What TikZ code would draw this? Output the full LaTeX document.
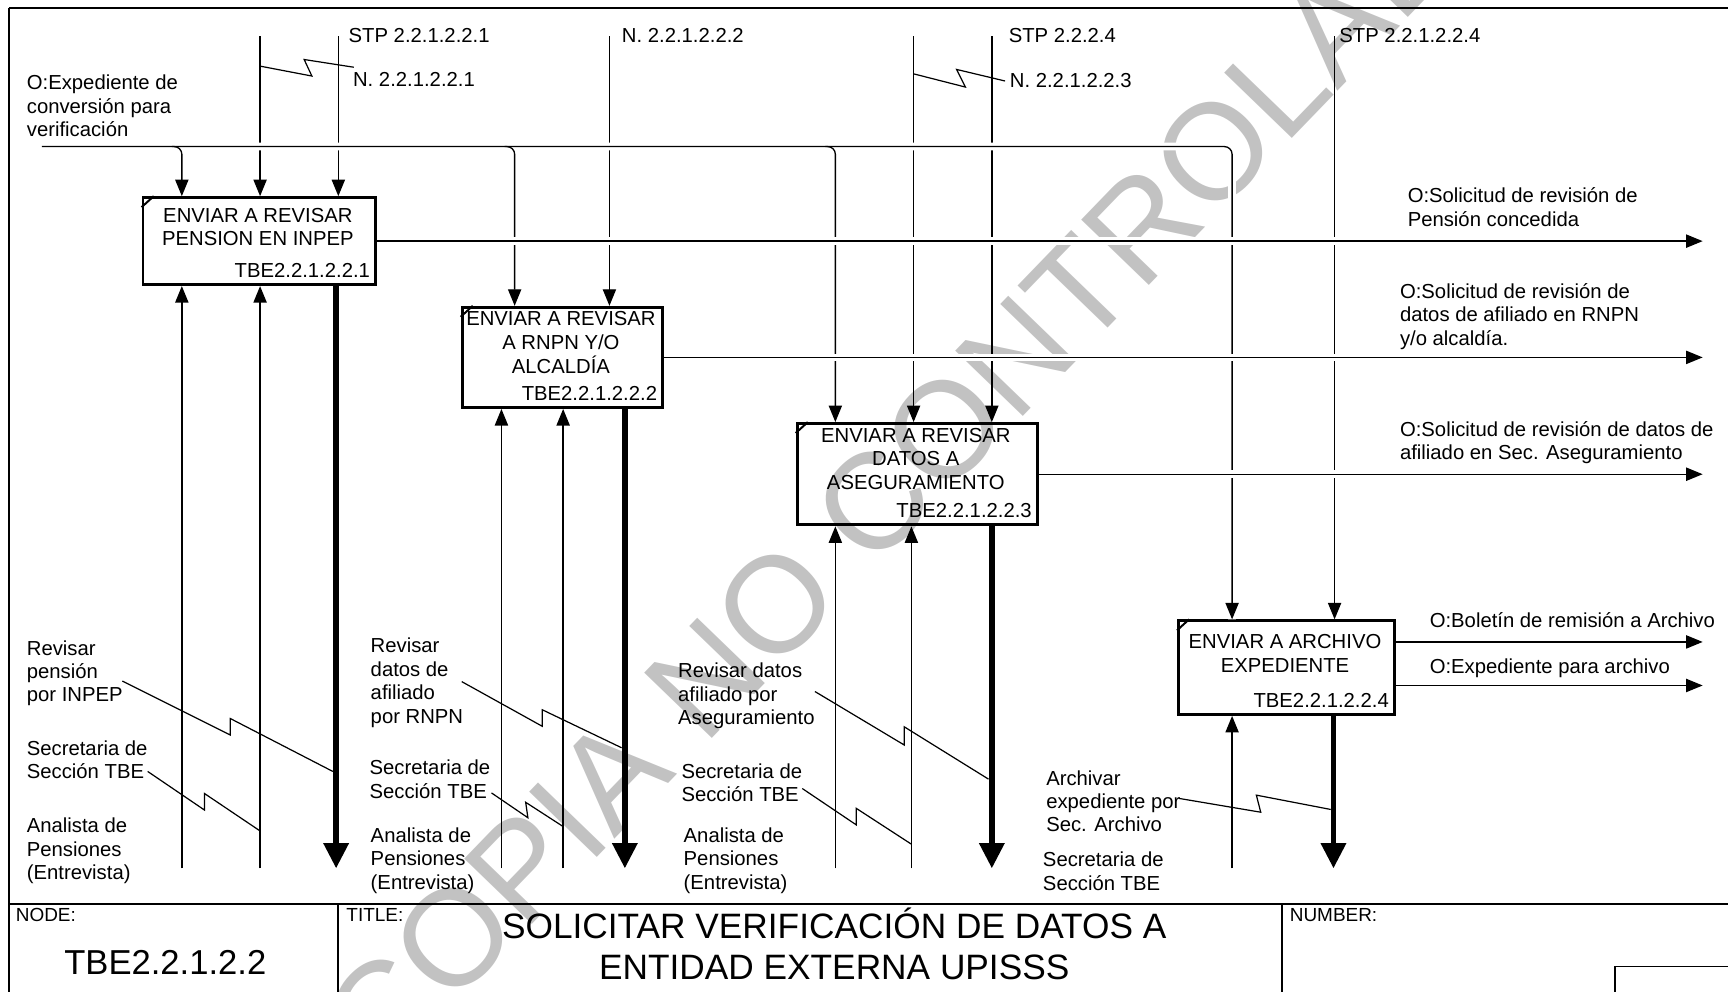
\documentclass[tikz,border=0pt]{standalone}
\usepackage{fontspec}
\setmainfont{Liberation Sans}
\usetikzlibrary{arrows.meta}

\begin{document}
\begin{tikzpicture}[x=0.5pt,y=-0.5pt,>={Triangle[length=7.5pt,width=6pt]},
    txt/.style={font=\fontsize{9.2}{10.6}\selectfont,inner sep=0pt,align=left,anchor=west},
    boxtxt/.style={font=\fontsize{9.2}{10.8}\selectfont,inner sep=0pt,align=center},
    act/.style={draw,line width=1.3pt,inner sep=0pt,anchor=north west},
    flow/.style={line width=0.6pt},
    bridge/.style={preaction={draw=white,line width=3.5pt,shorten <=0.8pt,-}},
    call/.style={line width=2.6pt,-{Triangle[length=11.5pt,width=11pt]}},
    squig/.style={line width=0.55pt},
    frame/.style={line width=0.9pt},
    wmark/.style={font=\fontsize{62}{62}\selectfont,text=black!24,rotate=46,inner sep=0pt}]
  \useasboundingbox (0,0) rectangle (1568,900);

  % watermark
  \node[wmark] (wm) at (838,410) {COPIA NO CONTROLADA};

  % activities
  \node[act,minimum width=105.5pt,minimum height=39.5pt] (a1) at (128.5,178) {};
  \node[act,minimum width=91pt,minimum height=45.5pt] (a2) at (418,277.5) {};
  \node[act,minimum width=109pt,minimum height=46pt] (a3) at (722,383) {};
  \node[act,minimum width=98pt,minimum height=42.5pt] (a4) at (1068,562) {};
  \foreach \b in {a1,a2,a3,a4}
    \draw[line width=0.9pt] ([yshift=-5pt]\b.north west) -- ([xshift=5.5pt]\b.north west);

  \node[boxtxt] (a1t) at (234,206) {ENVIAR A REVISAR\\PENSION EN INPEP};
  \node[boxtxt] (a2t) at (509,311) {ENVIAR A REVISAR\\A RNPN Y/O\\ALCALDÍA};
  \node[boxtxt] (a3t) at (831,416.5) {ENVIAR A REVISAR\\DATOS A\\ASEGURAMIENTO};
  \node[boxtxt] (a4t) at (1166,593) {ENVIAR A ARCHIVO\\EXPEDIENTE};
  \node[boxtxt,anchor=base east] (a1n) at ([xshift=-3pt,yshift=3.8pt]a1.south east) {TBE2.2.1.2.2.1};
  \node[boxtxt,anchor=base east] (a2n) at ([xshift=-3pt,yshift=3.8pt]a2.south east) {TBE2.2.1.2.2.2};
  \node[boxtxt,anchor=base east] (a3n) at ([xshift=-3pt,yshift=3.8pt]a3.south east) {TBE2.2.1.2.2.3};
  \node[boxtxt,anchor=base east] (a4n) at ([xshift=-3pt,yshift=3.8pt]a4.south east) {TBE2.2.1.2.2.4};

  % controls from the top
  \coordinate (t1) at (236,33);
  \coordinate (t2) at (307,33);
  \coordinate (t3) at (553,33);
  \coordinate (t4) at (829,33);
  \coordinate (t5) at (900,33);
  \coordinate (t6) at (1211,33);
  \draw[flow,->] (t1) -- (t1 |- a1.north);
  \draw[flow,->] (t2) -- (t2 |- a1.north);
  \draw[flow,->] (t3) -- (t3 |- a2.north);
  \draw[flow,->] (t4) -- (t4 |- a3.north);
  \draw[flow,->] (t5) -- (t5 |- a3.north);
  \draw[flow,->] (t6) -- (t6 |- a4.north);

  % mechanism ends at the bottom
  \coordinate (u1) at (165,788);
  \coordinate (u2) at (236,788);
  \coordinate (u3) at (305,788);
  \coordinate (u4) at (455,788);
  \coordinate (u5) at (511,788);
  \coordinate (u6) at (567,788);
  \coordinate (u7) at (758,788);
  \coordinate (u8) at (827,788);
  \coordinate (u9) at (900,788);
  \coordinate (u10) at (1118,788);
  \coordinate (u11) at (1210,788);
  \coordinate (v2) at (467,788);

  % input line and its branches
  \coordinate (in) at (38,133);
  \coordinate (k1) at (156,133);
  \coordinate (k2) at (458,133);
  \coordinate (k3) at (749,133);
  \draw[flow,bridge,->,rounded corners=3.5pt] (in) -| (u10 |- a4.north);
  \draw[flow,->,rounded corners=3.5pt] (k1) -| (u1 |- a1.north);
  \draw[flow,->,rounded corners=3.5pt] (k2) -| (v2 |- a2.north);
  \draw[flow,->,rounded corners=3.5pt] (k3) -| (u7 |- a3.north);

  % mechanisms and calls
  \draw[flow,->] (u1) -- (u1 |- a1.south);
  \draw[flow,->] (u2) -- (u2 |- a1.south);
  \draw[call] (a1.south -| u3) -- (u3);
  \draw[flow,->] (u4) -- (u4 |- a2.south);
  \draw[flow,->] (u5) -- (u5 |- a2.south);
  \draw[call] (a2.south -| u6) -- (u6);
  \draw[flow,->] (u7) -- (u7 |- a3.south);
  \draw[flow,->] (u8) -- (u8 |- a3.south);
  \draw[call] (a3.south -| u9) -- (u9);
  \draw[flow,->] (u10) -- (u10 |- a4.south);
  \draw[call] (a4.south -| u11) -- (u11);

  % outputs
  \coordinate (oe) at (1545,0);
  \coordinate (o4a) at (1545,582.5);
  \coordinate (o4b) at (1545,622);
  \draw[flow,bridge,->] (a1.east) -- (a1.east -| oe);
  \draw[flow,bridge,->] (a2.east) -- (a2.east -| oe);
  \draw[flow,bridge,->] (a3.east) -- (a3.east -| oe);
  \draw[flow,->] (a4.east |- o4a) -- (o4a);
  \draw[flow,->] (a4.east |- o4b) -- (o4b);

  % squiggles
  \draw[squig] (236,60) -- (283,69) -- (276,54) -- (321,61);
  \draw[squig] (829,67) -- (876,79) -- (868,63) -- (912,73.5);
  \draw[squig] (111,618) -- (209,667) -- (209,652) -- (302,700);
  \draw[squig] (134,700) -- (185.5,735) -- (185.5,720) -- (236,754);
  \draw[squig] (419,618.5) -- (492,659) -- (492,644) -- (564,678.5);
  \draw[squig] (446,719.5) -- (479,742) -- (477,728) -- (511,750);
  \draw[squig] (739.5,627.5) -- (820.5,676) -- (820.5,659.5) -- (897,707);
  \draw[squig] (728,715.5) -- (777,748.5) -- (777,733.5) -- (827,766);
  \draw[squig] (1070,724.5) -- (1144,737) -- (1140,721.5) -- (1207.5,734.5);

  % labels
  \node[txt] (stp1) at (316,32) {STP 2.2.1.2.2.1};
  \node[txt] (n1) at (320,72.5) {N. 2.2.1.2.2.1};
  \node[txt] (n2) at (564,32) {N. 2.2.1.2.2.2};
  \node[txt] (stp2) at (915,32) {STP 2.2.2.4};
  \node[txt] (n3) at (916,73.5) {N. 2.2.1.2.2.3};
  \node[txt] (stp3) at (1215,32) {STP 2.2.1.2.2.4};
  \node[txt] (inl) at (24,96) {O:Expediente de\\conversión para\\verificación};
  \node[txt] (out1) at (1277,188) {O:Solicitud de revisión de\\Pensión concedida};
  \node[txt] (out2) at (1270,287) {O:Solicitud de revisión de\\datos de afiliado en RNPN\\y/o alcaldía.};
  \node[txt] (out3) at (1270,401.5) {O:Solicitud de revisión de datos de\\afiliado en Sec. Aseguramiento};
  \node[txt] (out4) at (1297,563) {O:Boletín de remisión a Archivo};
  \node[txt] (out5) at (1297,606) {O:Expediente para archivo};
  \node[txt] (m1a) at (24,611) {Revisar\\pensión\\por INPEP};
  \node[txt] (m1b) at (24,689.5) {Secretaria de\\Sección TBE};
  \node[txt] (m1c) at (24,772) {Analista de\\Pensiones\\(Entrevista)};
  \node[txt] (m2a) at (336,619.5) {Revisar\\datos de\\afiliado\\por RNPN};
  \node[txt] (m2b) at (335,707) {Secretaria de\\Sección TBE};
  \node[txt] (m2c) at (336,781) {Analista de\\Pensiones\\(Entrevista)};
  \node[txt] (m3a) at (615,631.5) {Revisar datos\\afiliado por\\Aseguramiento};
  \node[txt] (m3b) at (618,710.5) {Secretaria de\\Sección TBE};
  \node[txt] (m3c) at (620,781) {Analista de\\Pensiones\\(Entrevista)};
  \node[txt] (m4a) at (949,727) {Archivar\\expediente por\\Sec. Archivo};
  \node[txt] (m4b) at (946,790.5) {Secretaria de\\Sección TBE};

  % frame and title block
  \draw[frame] (8,7) -- (1600,7);
  \draw[frame] (8,7) -- (8,950);
  \draw[frame] (8,820) -- (1600,820);
  \draw[frame] (307,820) -- (307,950);
  \draw[frame] (1163,820) -- (1163,950);
  \draw[frame] (1465,950) |- (1600,877);
  \node[txt,font=\fontsize{8.6}{10}\selectfont] (nodel) at (14,830) {NODE:};
  \node[txt,font=\fontsize{8.6}{10}\selectfont] (titlel) at (314,830) {TITLE:};
  \node[txt,font=\fontsize{8.6}{10}\selectfont] (numl) at (1170,830) {NUMBER:};
  \node[font=\fontsize{15.7}{18}\selectfont,inner sep=0pt] (nodeid) at (150,873) {TBE2.2.1.2.2};
  \node[font=\fontsize{16}{18.5}\selectfont,inner sep=0pt,align=center] (title) at (757,856.5)
    {SOLICITAR VERIFICACIÓN DE DATOS A\\ENTIDAD EXTERNA UPISSS};
\end{tikzpicture}
\end{document}
